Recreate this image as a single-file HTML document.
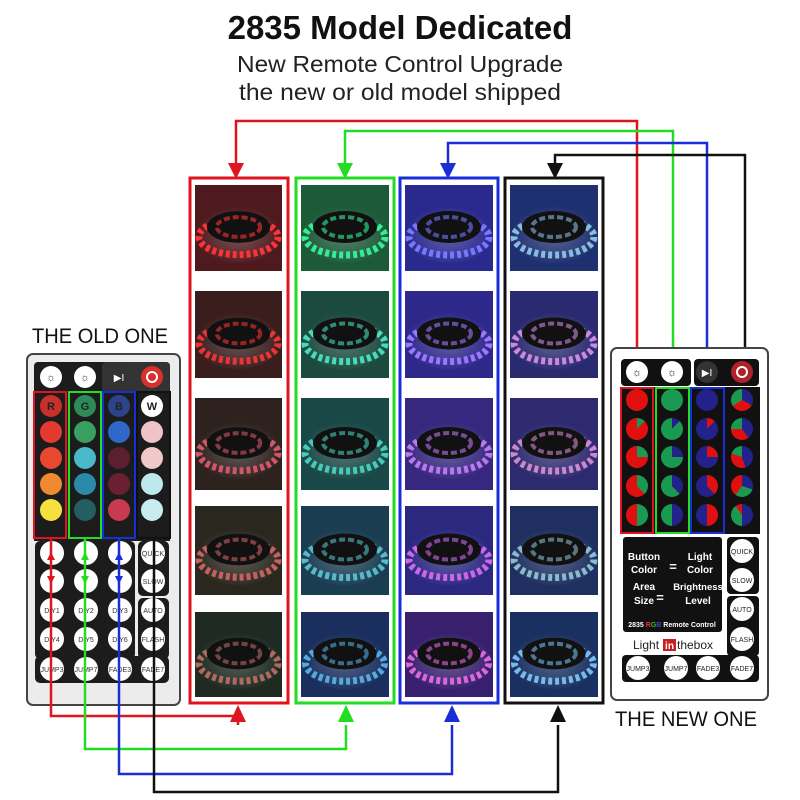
<!DOCTYPE html>
<html><head><meta charset="utf-8"><style>
html,body{margin:0;padding:0;background:#fff;}
svg{display:block;font-family:"Liberation Sans",sans-serif;}
</style></head><body>
<svg width="800" height="800" viewBox="0 0 800 800" xmlns="http://www.w3.org/2000/svg">
<defs>
<radialGradient id="glow" cx="50%" cy="55%" r="50%">
<stop offset="0" stop-color="#fff" stop-opacity=".25"/>
<stop offset="1" stop-color="#fff" stop-opacity="0"/>
</radialGradient>
<symbol id="reel" viewBox="0 0 88 86">
<ellipse cx="44" cy="48" rx="44" ry="30" fill="url(#glow)" stroke="none"/>
<ellipse cx="44" cy="52" rx="40" ry="18" fill="none" stroke-width="7" stroke-dasharray="4 3"/>
<ellipse cx="44" cy="42" rx="32" ry="16" fill="#111" stroke="none"/>
<ellipse cx="44" cy="42" rx="22" ry="10" fill="none" stroke-width="4" opacity=".6" stroke-dasharray="6 3"/>
<ellipse cx="44" cy="42" rx="6" ry="3" fill="#111" stroke="none"/>
</symbol>
</defs>
<rect width="800" height="800" fill="#fff"/>
<text x="400" y="39" font-size="33" font-weight="bold" text-anchor="middle" fill="#111">2835 Model Dedicated</text>
<text x="400" y="72" font-size="23" text-anchor="middle" fill="#222" textLength="326" lengthAdjust="spacingAndGlyphs">New Remote Control Upgrade</text>
<text x="400" y="100" font-size="23" text-anchor="middle" fill="#222" textLength="322" lengthAdjust="spacingAndGlyphs">the new or old model shipped</text>

<!-- top connectors -->
<g fill="none" stroke-width="2.5">
<polyline points="236,165 236,121 637,121 637,395" stroke="#e0141e"/>
<polyline points="345,165 345,131 673,131 673,395" stroke="#22dd22"/>
<polyline points="448,165 448,143 707,143 707,395" stroke="#1a2ed8"/>
<polyline points="555,165 555,155 745,155 745,395" stroke="#111"/>
</g>
<polygon points="228,163 244,163 236,179" fill="#e0141e"/>
<polygon points="337,163 353,163 345,179" fill="#22dd22"/>
<polygon points="440,163 456,163 448,179" fill="#1a2ed8"/>
<polygon points="547,163 563,163 555,179" fill="#111"/>

<!-- column boxes -->
<g fill="none" stroke-width="3">
<rect x="190" y="178" width="98" height="525" stroke="#e0141e"/>
<rect x="296" y="178" width="98" height="525" stroke="#22dd22"/>
<rect x="400" y="178" width="98" height="525" stroke="#1a2ed8"/>
<rect x="505" y="178" width="98" height="525" stroke="#111"/>
</g>

<!-- photos -->
<g>
<rect x="195" y="185" width="87" height="86" fill="#4e1a1e"/><svg x="195" y="185" width="87" height="86"><use href="#reel" stroke="#f33"/></svg>
<rect x="195" y="291" width="87" height="87" fill="#3a1e1e"/><svg x="195" y="291" width="87" height="87"><use href="#reel" stroke="#e33"/></svg>
<rect x="195" y="398" width="87" height="92" fill="#2e221e"/><svg x="195" y="398" width="87" height="92"><use href="#reel" stroke="#d3556a"/></svg>
<rect x="195" y="506" width="87" height="89" fill="#2a281e"/><svg x="195" y="506" width="87" height="89"><use href="#reel" stroke="#c86060"/></svg>
<rect x="195" y="612" width="87" height="85" fill="#1e2a22"/><svg x="195" y="612" width="87" height="85"><use href="#reel" stroke="#b06a60"/></svg>

<rect x="301" y="185" width="88" height="86" fill="#1c5a38"/><svg x="301" y="185" width="88" height="86"><use href="#reel" stroke="#3e9"/></svg>
<rect x="301" y="291" width="88" height="87" fill="#1c4a3e"/><svg x="301" y="291" width="88" height="87"><use href="#reel" stroke="#4db"/></svg>
<rect x="301" y="398" width="88" height="92" fill="#194846"/><svg x="301" y="398" width="88" height="92"><use href="#reel" stroke="#4cb"/></svg>
<rect x="301" y="506" width="88" height="89" fill="#1a3d52"/><svg x="301" y="506" width="88" height="89"><use href="#reel" stroke="#5bc"/></svg>
<rect x="301" y="612" width="88" height="85" fill="#1a2f5e"/><svg x="301" y="612" width="88" height="85"><use href="#reel" stroke="#5ad"/></svg>

<rect x="405" y="185" width="88" height="86" fill="#2a2a8e"/><svg x="405" y="185" width="88" height="86"><use href="#reel" stroke="#77f"/></svg>
<rect x="405" y="291" width="88" height="87" fill="#2e288a"/><svg x="405" y="291" width="88" height="87"><use href="#reel" stroke="#97f"/></svg>
<rect x="405" y="398" width="88" height="92" fill="#36287e"/><svg x="405" y="398" width="88" height="92"><use href="#reel" stroke="#b7e"/></svg>
<rect x="405" y="506" width="88" height="89" fill="#2c2880"/><svg x="405" y="506" width="88" height="89"><use href="#reel" stroke="#c6e"/></svg>
<rect x="405" y="612" width="88" height="85" fill="#38206e"/><svg x="405" y="612" width="88" height="85"><use href="#reel" stroke="#d6d"/></svg>

<rect x="510" y="185" width="88" height="86" fill="#1f3070"/><svg x="510" y="185" width="88" height="86"><use href="#reel" stroke="#8bd"/></svg>
<rect x="510" y="291" width="88" height="87" fill="#2a2a70"/><svg x="510" y="291" width="88" height="87"><use href="#reel" stroke="#c8d"/></svg>
<rect x="510" y="398" width="88" height="92" fill="#2e2a70"/><svg x="510" y="398" width="88" height="92"><use href="#reel" stroke="#c8c"/></svg>
<rect x="510" y="506" width="88" height="89" fill="#1f3060"/><svg x="510" y="506" width="88" height="89"><use href="#reel" stroke="#8bc"/></svg>
<rect x="510" y="612" width="88" height="85" fill="#193060"/><svg x="510" y="612" width="88" height="85"><use href="#reel" stroke="#7be"/></svg>
</g>

<!-- OLD remote -->
<text x="100" y="343" font-size="21" text-anchor="middle" fill="#111" textLength="136" lengthAdjust="spacingAndGlyphs">THE OLD ONE</text>
<rect x="27" y="354" width="153" height="351" rx="6" fill="#ececec" stroke="#444" stroke-width="2"/>
<rect x="34" y="362" width="136" height="334" rx="4" fill="#1c1c1c"/>
<rect x="102" y="362" width="68" height="30" rx="4" fill="#333"/>
<g>
<circle cx="51" cy="377" r="11" fill="#fff"/><circle cx="85" cy="377" r="11" fill="#fff"/>
<circle cx="119" cy="377" r="11" fill="#333"/><circle cx="152" cy="377" r="11" fill="#d8302a"/>
<text x="119" y="381" font-size="10" fill="#fff" text-anchor="middle">▶I</text>
<circle cx="152" cy="377" r="5" fill="none" stroke="#fff" stroke-width="2"/>
<text x="51" y="381" font-size="11" text-anchor="middle" fill="#444">☼</text>
<text x="85" y="381" font-size="11" text-anchor="middle" fill="#444">☼</text>
</g>
<g>
<circle cx="51" cy="406" r="11" fill="#c9302a"/><circle cx="51" cy="432" r="11" fill="#e43a2e"/><circle cx="51" cy="458" r="11" fill="#e8492e"/><circle cx="51" cy="484" r="11" fill="#ef8a30"/><circle cx="51" cy="510" r="11" fill="#f6e040"/>
<circle cx="85" cy="406" r="11" fill="#2e8a58"/><circle cx="85" cy="432" r="11" fill="#3aa060"/><circle cx="85" cy="458" r="11" fill="#49b8c8"/><circle cx="85" cy="484" r="11" fill="#2a8aa8"/><circle cx="85" cy="510" r="11" fill="#245e60"/>
<circle cx="119" cy="406" r="11" fill="#2c448a"/><circle cx="119" cy="432" r="11" fill="#2f68c8"/><circle cx="119" cy="458" r="11" fill="#5a2030"/><circle cx="119" cy="484" r="11" fill="#6a2030"/><circle cx="119" cy="510" r="11" fill="#c83a50"/>
<circle cx="152" cy="406" r="11" fill="#fff"/><circle cx="152" cy="432" r="11" fill="#eec4c8"/><circle cx="152" cy="458" r="11" fill="#f0c8c8"/><circle cx="152" cy="484" r="11" fill="#bde8ec"/><circle cx="152" cy="510" r="11" fill="#c8ecf0"/>
<text x="51" y="410" font-size="11" font-weight="bold" text-anchor="middle" fill="#222">R</text>
<text x="85" y="410" font-size="11" font-weight="bold" text-anchor="middle" fill="#222">G</text>
<text x="119" y="410" font-size="11" font-weight="bold" text-anchor="middle" fill="#222">B</text>
<text x="152" y="410" font-size="11" font-weight="bold" text-anchor="middle" fill="#222">W</text>
</g>
<g fill="none" stroke-width="2">
<rect x="34" y="392" width="32" height="146" stroke="#e0141e"/>
<rect x="69" y="392" width="32" height="146" stroke="#22dd22"/>
<rect x="103" y="392" width="32" height="146" stroke="#1a2ed8"/>
<rect x="137" y="392" width="33" height="146" stroke="#111"/>
</g>
<rect x="34" y="541" width="136" height="155" fill="#ececec"/>
<rect x="35" y="541" width="100" height="118" rx="5" fill="#1c1c1c"/>
<rect x="138" y="541" width="31" height="55" rx="5" fill="#1c1c1c"/>
<rect x="138" y="598" width="31" height="61" rx="5" fill="#1c1c1c"/>
<rect x="35" y="656" width="134" height="27" rx="5" fill="#1c1c1c"/>
<g fill="#fff">
<circle cx="52" cy="553" r="12"/><circle cx="86" cy="553" r="12"/><circle cx="120" cy="553" r="12"/><circle cx="153" cy="553" r="12"/>
<circle cx="52" cy="581" r="12"/><circle cx="86" cy="581" r="12"/><circle cx="120" cy="581" r="12"/><circle cx="153" cy="581" r="12"/>
<circle cx="52" cy="610" r="12"/><circle cx="86" cy="610" r="12"/><circle cx="120" cy="610" r="12"/><circle cx="153" cy="610" r="12"/>
<circle cx="52" cy="639" r="12"/><circle cx="86" cy="639" r="12"/><circle cx="120" cy="639" r="12"/><circle cx="153" cy="639" r="12"/>
<circle cx="52" cy="669" r="12"/><circle cx="86" cy="669" r="12"/><circle cx="120" cy="669" r="12"/><circle cx="153" cy="669" r="12"/>
</g>
<g font-size="7" text-anchor="middle" fill="#333">
<text x="153" y="556">QUICK</text><text x="153" y="584">SLOW</text><text x="153" y="613">AUTO</text><text x="153" y="642">FLASH</text>
<text x="52" y="613">DIY1</text><text x="86" y="613">DIY2</text><text x="120" y="613">DIY3</text>
<text x="52" y="642">DIY4</text><text x="86" y="642">DIY5</text><text x="120" y="642">DIY6</text>
<text x="52" y="672">JUMP3</text><text x="86" y="672">JUMP7</text><text x="120" y="672">FADE3</text><text x="153" y="672">FADE7</text>
</g>

<!-- bottom connectors -->
<g fill="none" stroke-width="2.5">
<polyline points="51,538 51,716 238,716 238,725" stroke="#e0141e"/>
<polyline points="85,538 85,749 346,749 346,725" stroke="#22dd22"/>
<polyline points="119,538 119,774 452,774 452,725" stroke="#1a2ed8"/>
<polyline points="154,538 154,792 558,792 558,725" stroke="#111"/>
</g>
<polygon points="230,722 246,722 238,705" fill="#e0141e"/>
<polygon points="338,722 354,722 346,705" fill="#22dd22"/>
<polygon points="444,722 460,722 452,705" fill="#1a2ed8"/>
<polygon points="550,722 566,722 558,705" fill="#111"/>
<g fill="#e0141e"><polygon points="47,560 55,560 51,552"/><polygon points="47,576 55,576 51,584"/></g>
<g fill="#22dd22"><polygon points="81,560 89,560 85,552"/><polygon points="81,576 89,576 85,584"/></g>
<g fill="#1a2ed8"><polygon points="115,560 123,560 119,552"/><polygon points="115,576 123,576 119,584"/></g>

<!-- NEW remote -->
<rect x="611" y="348" width="157" height="352" rx="6" fill="#fff" stroke="#444" stroke-width="2"/>
<rect x="621" y="359" width="70" height="27" rx="4" fill="#111"/>
<rect x="694" y="359" width="65" height="27" rx="4" fill="#111"/>
<circle cx="637" cy="372" r="11" fill="#fff"/><circle cx="672" cy="372" r="11" fill="#fff"/>
<circle cx="707" cy="372" r="11" fill="#333"/><circle cx="742" cy="372" r="11" fill="#b0222a"/>
<text x="637" y="376" font-size="11" text-anchor="middle" fill="#222">☼</text>
<text x="672" y="376" font-size="11" text-anchor="middle" fill="#222">☼</text>
<text x="707" y="376" font-size="10" text-anchor="middle" fill="#fff">▶I</text>
<circle cx="742" cy="372" r="5" fill="none" stroke="#fff" stroke-width="2"/>
<rect x="620" y="387" width="140" height="147" fill="#111"/>
<foreignObject x="620" y="387" width="140" height="147">
<div xmlns="http://www.w3.org/1999/xhtml" style="position:relative;width:140px;height:147px;">
<style>
.p{position:absolute;width:22px;height:22px;border-radius:50%;}
</style>
<div class="p" style="left:6px;top:2px;background:#e01010"></div>
<div class="p" style="left:6px;top:31px;background:conic-gradient(#1a9a50 0 12%,#e01010 0)"></div>
<div class="p" style="left:6px;top:59px;background:conic-gradient(#1a9a50 0 25%,#e01010 0)"></div>
<div class="p" style="left:6px;top:88px;background:conic-gradient(#1a9a50 0 38%,#e01010 0)"></div>
<div class="p" style="left:6px;top:117px;background:conic-gradient(#1a9a50 0 50%,#e01010 0)"></div>
<div class="p" style="left:41px;top:2px;background:#1a9a50"></div>
<div class="p" style="left:41px;top:31px;background:conic-gradient(#22228a 0 12%,#1a9a50 0)"></div>
<div class="p" style="left:41px;top:59px;background:conic-gradient(#22228a 0 25%,#1a9a50 0)"></div>
<div class="p" style="left:41px;top:88px;background:conic-gradient(#22228a 0 38%,#1a9a50 0)"></div>
<div class="p" style="left:41px;top:117px;background:conic-gradient(#22228a 0 50%,#1a9a50 0)"></div>
<div class="p" style="left:76px;top:2px;background:#22228a"></div>
<div class="p" style="left:76px;top:31px;background:conic-gradient(#e01010 0 12%,#22228a 0)"></div>
<div class="p" style="left:76px;top:59px;background:conic-gradient(#e01010 0 25%,#22228a 0)"></div>
<div class="p" style="left:76px;top:88px;background:conic-gradient(#e01010 0 38%,#22228a 0)"></div>
<div class="p" style="left:76px;top:117px;background:conic-gradient(#e01010 0 50%,#22228a 0)"></div>
<div class="p" style="left:111px;top:2px;background:conic-gradient(#22228a 0 33%,#e01010 0 66%,#1a9a50 0)"></div>
<div class="p" style="left:111px;top:31px;background:conic-gradient(#22228a 0 40%,#e01010 0 75%,#1a9a50 0)"></div>
<div class="p" style="left:111px;top:59px;background:conic-gradient(#22228a 0 45%,#e01010 0 80%,#1a9a50 0)"></div>
<div class="p" style="left:111px;top:88px;background:conic-gradient(#22228a 0 30%,#1a9a50 0 60%,#e01010 0)"></div>
<div class="p" style="left:111px;top:117px;background:conic-gradient(#22228a 0 50%,#1a9a50 0 90%,#e01010 0)"></div>
</div>
</foreignObject>
<g fill="none" stroke-width="2">
<rect x="621" y="388" width="32" height="145" stroke="#e0141e"/>
<rect x="656" y="388" width="33" height="145" stroke="#22dd22"/>
<rect x="691" y="388" width="33" height="145" stroke="#1a2ed8"/>
</g>
<rect x="623" y="537" width="99" height="95" rx="3" fill="#111"/>
<g font-size="10" font-weight="bold" fill="#fff" text-anchor="middle">
<text x="644" y="560">Button</text><text x="644" y="573">Color</text>
<text x="700" y="560">Light</text><text x="700" y="573">Color</text>
<text x="673" y="571" font-size="13">=</text>
<text x="644" y="590">Area</text><text x="644" y="604">Size</text>
<text x="698" y="590" font-size="9.5">Brightness</text><text x="698" y="604">Level</text>
<text x="660" y="602" font-size="13">=</text>
<text x="672" y="627" font-size="7">2835 <tspan fill="#e33">R</tspan><tspan fill="#3b3">G</tspan><tspan fill="#44c">B</tspan> Remote Control</text>
</g>
<text x="633" y="649" font-size="12" fill="#222">Light</text>
<rect x="663" y="639" width="13" height="12" fill="#c82020"/>
<text x="669.5" y="649" font-size="10" font-weight="bold" fill="#fff" text-anchor="middle">in</text>
<text x="677" y="649" font-size="12" fill="#222">thebox</text>
<rect x="727" y="537" width="32" height="57" rx="4" fill="#111"/>
<rect x="727" y="596" width="32" height="60" rx="4" fill="#111"/>
<rect x="622" y="655" width="137" height="27" rx="4" fill="#111"/>
<g fill="#fff">
<circle cx="742" cy="551" r="12"/><circle cx="742" cy="580" r="12"/><circle cx="742" cy="609" r="12"/><circle cx="742" cy="639" r="12"/>
<circle cx="638" cy="668" r="12"/><circle cx="676" cy="668" r="12"/><circle cx="708" cy="668" r="12"/><circle cx="742" cy="668" r="12"/>
</g>
<g font-size="7" text-anchor="middle" fill="#222">
<text x="742" y="554">QUICK</text><text x="742" y="583">SLOW</text><text x="742" y="612">AUTO</text><text x="742" y="642">FLASH</text>
<text x="638" y="671">JUMP3</text><text x="676" y="671">JUMP7</text><text x="708" y="671">FADE3</text><text x="742" y="671">FADE7</text>
</g>
<text x="686" y="726" font-size="21" text-anchor="middle" fill="#111" textLength="142" lengthAdjust="spacingAndGlyphs">THE NEW ONE</text>
</svg>
</body></html>
